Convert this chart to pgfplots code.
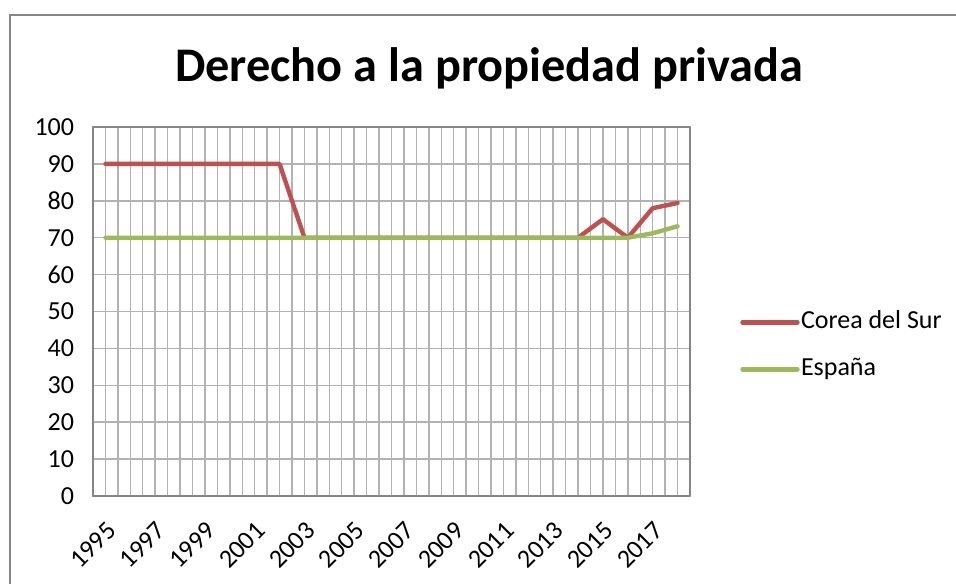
\documentclass[border=0pt]{standalone}
\usepackage{fontspec}
\setmainfont{Carlito}
\usepackage{pgfplots}
\pgfplotsset{compat=1.18}
\definecolor{corea}{RGB}{192,80,77}
\definecolor{espana}{RGB}{155,187,89}
\definecolor{gridgray}{RGB}{178,178,178}
\definecolor{framegray}{RGB}{134,134,134}
\newcommand\tickfont{\fontsize{19.5}{23}\selectfont}
% year label nudged along its rotated direction
\newcommand\yr[1]{#1\hspace{-6.8pt}}

\begin{document}
\begin{tikzpicture}
  % picture frame: 1px of the reference = 0.75pt, axis SW corner at origin
  \path[use as bounding box] (-69.75pt,-65.25pt) rectangle (647.25pt,372pt);
  \draw[framegray, line width=1.1pt] (-62.25pt,-70pt) -- (-62.25pt,360.75pt) -- (660pt,360.75pt);
  \node[anchor=base, font=\fontsize{36.2}{42}\selectfont\bfseries] at (297pt,311.25pt)
    {Derecho a la propiedad privada};

  \begin{axis}[
    at={(0pt,0pt)}, anchor=south west,
    scale only axis,
    width=447.75pt, height=276.75pt,
    xmin=1994.5, xmax=2018.5,
    ymin=0, ymax=100,
    xtick={1995,1997,...,2017},
    xticklabels={\yr{1995},\yr{1997},\yr{1999},\yr{2001},\yr{2003},\yr{2005},
                 \yr{2007},\yr{2009},\yr{2011},\yr{2013},\yr{2015},\yr{2017}},
    minor xtick={1994.5,1995,...,2018.5},
    ytick={0,10,...,100},
    yticklabels={0,10,20,30,40,50,60,70,80,90,100},
    tick label style={font=\tickfont},
    xticklabel style={rotate=45, anchor=north east, inner sep=0pt},
    xticklabel shift=18.25pt,
    yticklabel style={anchor=east, inner sep=0pt, xshift=-14pt},
    major tick length=0pt, minor tick length=0pt,
    xminorgrids, ymajorgrids,
    grid style={gridgray, line width=1.1pt},
    minor grid style={gridgray, line width=1.1pt},
    axis line style={framegray, line width=1pt},
    legend style={draw=none, fill=none, at={(1.0838,0.4106)}, anchor=west,
      inner sep=0pt, font=\tickfont,
      row sep=15.25pt,
      nodes={inner sep=0pt, text height=16pt, text depth=4pt}},
    legend cell align=left,
    legend image code/.code={\draw[#1, line cap=round] (0pt,-1pt) -- (41.25pt,-1pt);},
    line cap=round, line join=round,
  ]
    \addplot[corea, line width=3.3pt, mark=none] coordinates {
      (1995,90) (1996,90) (1997,90) (1998,90) (1999,90) (2000,90)
      (2001,90) (2002,90) (2003,70) (2004,70) (2005,70) (2006,70)
      (2007,70) (2008,70) (2009,70) (2010,70) (2011,70) (2012,70)
      (2013,70) (2014,70) (2015,75) (2016,70) (2017,78) (2018,79.4)
    };
    \addlegendentry{\hspace{1pt}Corea del Sur}
    \addplot[espana, line width=3.3pt, mark=none] coordinates {
      (1995,70) (1996,70) (1997,70) (1998,70) (1999,70) (2000,70)
      (2001,70) (2002,70) (2003,70) (2004,70) (2005,70) (2006,70)
      (2007,70) (2008,70) (2009,70) (2010,70) (2011,70) (2012,70)
      (2013,70) (2014,70) (2015,70) (2016,70) (2017,71.2) (2018,73.1)
    };
    \addlegendentry{\hspace{1pt}España}
  \end{axis}
\end{tikzpicture}
\end{document}
